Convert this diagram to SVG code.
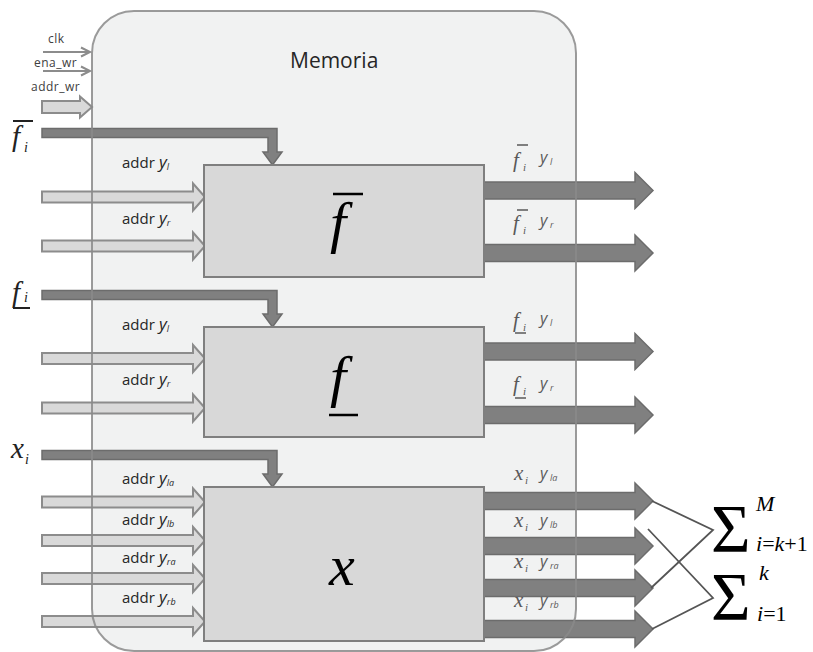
<svg xmlns="http://www.w3.org/2000/svg" xmlns:xlink="http://www.w3.org/1999/xlink" width="813" height="652" viewBox="0 0 813 652">
  <style>
    .mem-fill { fill: #f1f2f2; stroke: none; }
    .mem-edge { fill: none; stroke: #8a8a8a; stroke-width: 2; }
    .block { fill: #d8d8d8; stroke: #7f7f7f; stroke-width: 2; }
    .in-arrow { fill: #d9d9d9; stroke: #8c8c8c; stroke-width: 2; }
    .dark-arrow { fill: #808080; stroke: #6c6c6c; stroke-width: 1.5; }
    .thin { fill: none; stroke: #8c8c8c; stroke-width: 2; }
    .sum-line { fill: none; stroke: #555555; stroke-width: 1.8; }
    .sans { font-family: "Open Sans", "DejaVu Sans", sans-serif; }
    .ctl { font-size: 12px; fill: #404040; letter-spacing: 0.5px; }
    .title { font-size: 21px; fill: #262626; }
    .addr { font-size: 15px; fill: #262626; }
    .yv { font-style: italic; font-size: 17px; }
    .ysub { font-style: italic; font-size: 9px; }
    .oy { font-style: italic; font-size: 16px; fill: #595959; }
    .osub { font-style: italic; font-size: 9px; fill: #595959; }
    .serif { font-family: "Liberation Serif", "Times New Roman", serif; }
    .it { font-style: italic; }
    .big { font-size: 58px; fill: #000; }
    .side { font-size: 29px; fill: #222; }
    .sidesub { font-size: 14px; fill: #222; }
    .olab { font-size: 21px; fill: #595959; }
    .olsub { font-size: 11px; fill: #595959; }
    .bar { stroke: #000; stroke-width: 2.5; }
    .sbar { stroke: #222; stroke-width: 2; }
    .obar { stroke: #595959; stroke-width: 1.5; }
    .sigma { font-size: 68px; fill: #000; }
    .lim { font-size: 22px; fill: #000; }
  </style>
  <defs>
    <!-- light address input arrow, origin at the tail centre -->
    <path id="inArrow" class="in-arrow" d="M0,-5.5 H151 V-13.5 L163,0 L151,13.5 V5.5 H0 Z"/>
    <!-- dark data output arrow, origin at the tail centre -->
    <path id="outArrow" class="dark-arrow" d="M0,-8.5 H151 V-18 L169,0 L151,18 V8.5 H0 Z"/>
    <!-- dark write-data arrow: runs right, then bends down into a block -->
    <path id="bendArrow" class="dark-arrow" d="M0,-4.5 H235 V19 H240 L230.5,32 L221,19 H226 V4.5 H0 Z"/>
  </defs>

  <!-- memory container background -->
  <g id="memoria">
    <rect class="mem-fill" x="92" y="11" width="484" height="640" rx="42" ry="42"/>
    <text class="sans title" x="290" y="68">Memoria</text>
  </g>

  <!-- control inputs -->
  <g id="control-inputs">
    <text class="sans ctl" x="48" y="43">clk</text>
    <text class="sans ctl" x="34" y="67">ena_wr</text>
    <text class="sans ctl" x="31" y="91">addr_wr</text>
  </g>

  <g id="connectors">
    <!-- control lines -->
    <path class="thin" d="M43,52 H90 M81,47.5 L90,52 L81,56.5"/>
    <path class="thin" d="M43,71 H90 M81,66.5 L90,71 L81,75.5"/>
    <path class="in-arrow" d="M42,101 H80 V96.5 L92,107 L80,117.5 V113 H42 Z"/>

    <!-- write data into each block -->
    <use xlink:href="#bendArrow" transform="translate(42,133)"/>
    <use xlink:href="#bendArrow" transform="translate(42,295)"/>
    <use xlink:href="#bendArrow" transform="translate(42,455)"/>

    <!-- address inputs -->
    <use xlink:href="#inArrow" transform="translate(42,197)"/>
    <use xlink:href="#inArrow" transform="translate(42,246)"/>
    <use xlink:href="#inArrow" transform="translate(42,358.5)"/>
    <use xlink:href="#inArrow" transform="translate(42,408)"/>
    <use xlink:href="#inArrow" transform="translate(42,502)"/>
    <use xlink:href="#inArrow" transform="translate(42,540.5)"/>
    <use xlink:href="#inArrow" transform="translate(42,578.5)"/>
    <use xlink:href="#inArrow" transform="translate(42,621.5)"/>

    <!-- data outputs -->
    <use xlink:href="#outArrow" transform="translate(484,190.5)"/>
    <use xlink:href="#outArrow" transform="translate(484,253)"/>
    <use xlink:href="#outArrow" transform="translate(484,351.5)"/>
    <use xlink:href="#outArrow" transform="translate(484,415)"/>
    <use xlink:href="#outArrow" transform="translate(484,501)"/>
    <use xlink:href="#outArrow" transform="translate(484,546)"/>
    <use xlink:href="#outArrow" transform="translate(484,588)"/>
    <use xlink:href="#outArrow" transform="translate(484,629)"/>

    <!-- outputs gathered into the two partial sums -->
    <polyline class="sum-line" points="652,501 713,530 651,588"/>
    <polyline class="sum-line" points="648,529 713,598 652,629"/>
  </g>

  <!-- container outline drawn over the crossing arrows -->
  <rect class="mem-edge" x="92" y="11" width="484" height="640" rx="42" ry="42" opacity="0.85"/>

  <!-- left-hand data names -->
  <g id="input-names">
    <text class="serif it side" x="12" y="146">f</text>
    <line class="sbar" x1="13" y1="121" x2="33" y2="121"/>
    <text class="serif it sidesub" x="24" y="152">i</text>

    <text class="serif it side" x="12" y="302">f</text>
    <line class="sbar" x1="13" y1="308" x2="30" y2="308"/>
    <text class="serif it sidesub" x="24" y="302">i</text>

    <text class="serif it side" x="11" y="458">x</text>
    <text class="serif it sidesub" x="25" y="464">i</text>
  </g>

  <!-- address labels -->
  <g id="address-labels" class="sans addr">
    <text x="122" y="168">addr <tspan class="yv" x="159">y</tspan><tspan class="ysub" dy="2">l</tspan></text>
    <text x="122" y="224">addr <tspan class="yv" x="159">y</tspan><tspan class="ysub" dy="2">r</tspan></text>
    <text x="122" y="330">addr <tspan class="yv" x="159">y</tspan><tspan class="ysub" dy="2">l</tspan></text>
    <text x="122" y="385">addr <tspan class="yv" x="159">y</tspan><tspan class="ysub" dy="2">r</tspan></text>
    <text x="122" y="484">addr <tspan class="yv" x="159">y</tspan><tspan class="ysub" dy="2">la</tspan></text>
    <text x="122" y="525">addr <tspan class="yv" x="159">y</tspan><tspan class="ysub" dy="2">lb</tspan></text>
    <text x="122" y="563">addr <tspan class="yv" x="159">y</tspan><tspan class="ysub" dy="2">ra</tspan></text>
    <text x="122" y="603">addr <tspan class="yv" x="159">y</tspan><tspan class="ysub" dy="2">rb</tspan></text>
  </g>

  <!-- memory blocks -->
  <g id="block-fbar">
    <rect class="block" x="204" y="165" width="280" height="112"/>
    <line class="bar" x1="333" y1="194" x2="363" y2="194"/>
    <text class="serif it big" x="330" y="242">f</text>
  </g>
  <g id="block-f">
    <rect class="block" x="204" y="327" width="280" height="110"/>
    <text class="serif it big" x="330" y="396">f</text>
    <line class="bar" x1="329" y1="415" x2="358" y2="415"/>
  </g>
  <g id="block-x">
    <rect class="block" x="204" y="487" width="280" height="154"/>
    <text class="serif it big" x="329" y="585">x</text>
  </g>

  <!-- output labels -->
  <g id="output-labels">
    <line class="obar" x1="517" y1="145" x2="528" y2="145"/>
    <text class="serif it olab" x="513" y="167">f</text>
    <text class="serif it olsub" x="523" y="171">i</text>
    <text class="sans oy" x="540" y="163">y</text><text class="sans osub" x="550" y="165">l</text>

    <line class="obar" x1="517" y1="210" x2="528" y2="210"/>
    <text class="serif it olab" x="513" y="230">f</text>
    <text class="serif it olsub" x="523" y="234">i</text>
    <text class="sans oy" x="540" y="226">y</text><text class="sans osub" x="550" y="228">r</text>

    <text class="serif it olab" x="513" y="327">f</text>
    <text class="serif it olsub" x="523" y="331">i</text>
    <line class="obar" x1="515" y1="333" x2="526" y2="333"/>
    <text class="sans oy" x="540" y="324">y</text><text class="sans osub" x="550" y="326">l</text>

    <text class="serif it olab" x="513" y="391">f</text>
    <text class="serif it olsub" x="523" y="395">i</text>
    <line class="obar" x1="515" y1="398" x2="526" y2="398"/>
    <text class="sans oy" x="540" y="389">y</text><text class="sans osub" x="550" y="391">r</text>

    <text class="serif it olab" x="514" y="480">x</text>
    <text class="serif it olsub" x="525" y="484">i</text>
    <text class="sans oy" x="540" y="479">y</text><text class="sans osub" x="550" y="481">la</text>

    <text class="serif it olab" x="514" y="527">x</text>
    <text class="serif it olsub" x="525" y="531">i</text>
    <text class="sans oy" x="540" y="526">y</text><text class="sans osub" x="550" y="528">lb</text>

    <text class="serif it olab" x="514" y="568">x</text>
    <text class="serif it olsub" x="525" y="572">i</text>
    <text class="sans oy" x="540" y="567">y</text><text class="sans osub" x="550" y="569">ra</text>

    <text class="serif it olab" x="514" y="607">x</text>
    <text class="serif it olsub" x="525" y="611">i</text>
    <text class="sans oy" x="540" y="606">y</text><text class="sans osub" x="550" y="608">rb</text>
  </g>

  <!-- partial sums -->
  <g id="sum-upper" class="serif">
    <text class="sigma" x="711" y="551">Σ</text>
    <text class="it lim" x="756" y="511">M</text>
    <text class="lim" x="756" y="551"><tspan class="it">i</tspan>=<tspan class="it">k</tspan>+1</text>
  </g>
  <g id="sum-lower" class="serif">
    <text class="sigma" x="711" y="619">Σ</text>
    <text class="it lim" x="759" y="580">k</text>
    <text class="lim" x="757" y="621"><tspan class="it">i</tspan>=1</text>
  </g>
</svg>
